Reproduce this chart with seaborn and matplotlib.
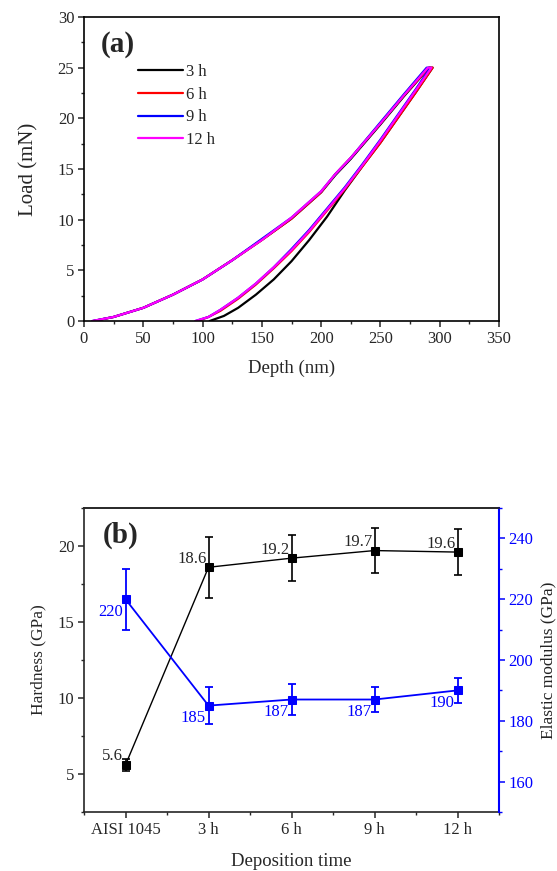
import numpy as np
import pandas as pd
import matplotlib
matplotlib.use("Agg")
import matplotlib.pyplot as plt
import seaborn as sns
from matplotlib.ticker import MultipleLocator

# ---------------- data: panel (a) load-depth curves ----------------
samples = ["3 h", "6 h", "9 h", "12 h"]
colors = ["#000000", "#FF0000", "#0000FF", "#FF00FF"]

load_depth_3h = [8, 25, 50, 75, 100, 125, 150, 175, 200, 212, 225, 250, 270, 291]
load_load_3h = [0, 0.4, 1.3, 2.6, 4.1, 6.0, 8.0, 10.1, 12.7, 14.4, 16.0, 19.4, 22.2, 25.0]
unload_depth_3h = [294, 280, 265, 250, 235, 220, 205, 190, 175, 160, 145, 130, 118, 106]
unload_load_3h = [25.0, 22.6, 20.1, 17.6, 15.3, 12.9, 10.3, 8.0, 5.9, 4.1, 2.6, 1.3, 0.5, 0]

load_depth_6h = [8, 25, 50, 75, 100, 125, 150, 175, 200, 212, 225, 250, 270, 291]
load_load_6h = [0, 0.4, 1.3, 2.6, 4.1, 6.0, 8.0, 10.1, 12.7, 14.5, 16.1, 19.5, 22.3, 25.0]
unload_depth_6h = [294, 280, 265, 250, 235, 220, 205, 190, 175, 160, 145, 130, 115, 105, 96]
unload_load_6h = [25.0, 22.6, 20.1, 17.6, 15.3, 13.0, 10.9, 8.8, 6.9, 5.2, 3.6, 2.2, 1.0, 0.4, 0]

load_depth_9h = [7, 25, 50, 75, 100, 125, 150, 175, 200, 212, 225, 250, 270, 289]
load_load_9h = [0, 0.4, 1.3, 2.6, 4.1, 6.0, 8.1, 10.2, 12.8, 14.5, 16.1, 19.6, 22.4, 25.0]
unload_depth_9h = [292, 280, 265, 250, 235, 220, 205, 190, 175, 160, 145, 130, 115, 105, 94]
unload_load_9h = [25.0, 22.9, 20.4, 17.9, 15.5, 13.2, 11.1, 9.0, 7.1, 5.3, 3.7, 2.3, 1.1, 0.4, 0]

load_depth_12h = [7, 25, 50, 75, 100, 125, 150, 175, 200, 212, 225, 250, 270, 290]
load_load_12h = [0, 0.4, 1.3, 2.6, 4.1, 6.0, 8.0, 10.2, 12.8, 14.5, 16.1, 19.5, 22.3, 25.0]
unload_depth_12h = [293, 280, 265, 250, 235, 220, 205, 190, 175, 160, 145, 130, 115, 105, 94]
unload_load_12h = [25.0, 22.8, 20.3, 17.8, 15.4, 13.1, 11.0, 8.9, 7.0, 5.3, 3.7, 2.3, 1.1, 0.4, 0]

# ---------------- data: panel (b) hardness / modulus ----------------
categories = ["AISI 1045", "3 h", "6 h", "9 h", "12 h"]
hardness = [5.6, 18.6, 19.2, 19.7, 19.6]
hardness_err = [0.4, 2.0, 1.5, 1.5, 1.5]
modulus = [220, 185, 187, 187, 190]
modulus_err = [10, 6, 5, 4, 4]

# ---------------- style ----------------
sns.set_style("ticks")
plt.rcParams["font.family"] = ["Liberation Serif", "DejaVu Serif"]
plt.rcParams["axes.linewidth"] = 1.2
plt.rcParams["xtick.major.width"] = 1.1
plt.rcParams["ytick.major.width"] = 1.1
plt.rcParams["xtick.minor.width"] = 1.0
plt.rcParams["ytick.minor.width"] = 1.0
plt.rcParams["xtick.major.size"] = 4
plt.rcParams["ytick.major.size"] = 4
plt.rcParams["xtick.minor.size"] = 2.5
plt.rcParams["ytick.minor.size"] = 2.5
plt.rcParams["xtick.direction"] = "out"
plt.rcParams["ytick.direction"] = "out"

BLUE = "#0000FF"
W, H = 557, 871
fig = plt.figure(figsize=(W / 100, H / 100), dpi=100)
ax1 = fig.add_axes([84 / W, 1 - 321 / H, 415 / W, 304 / H])
ax2 = fig.add_axes([84 / W, 1 - 812 / H, 415 / W, 304 / H])

# ---------------- panel (a) ----------------
branches = {
    "3 h": (load_depth_3h, load_load_3h, unload_depth_3h, unload_load_3h),
    "6 h": (load_depth_6h, load_load_6h, unload_depth_6h, unload_load_6h),
    "9 h": (load_depth_9h, load_load_9h, unload_depth_9h, unload_load_9h),
    "12 h": (load_depth_12h, load_load_12h, unload_depth_12h, unload_load_12h),
}
frames = []
for s in samples:
    ld, ll, ud, ul = branches[s]
    frames.append(pd.DataFrame({"Depth": list(ld) + list(ud),
                                "Load": list(ll) + list(ul),
                                "sample": s}))
df_a = pd.concat(frames, ignore_index=True)

sns.lineplot(data=df_a, x="Depth", y="Load", hue="sample", hue_order=samples,
             palette=colors, sort=False, estimator=None, linewidth=1.6, ax=ax1)

ax1.set_xlim(0, 350)
ax1.set_ylim(0, 30)
ax1.xaxis.set_major_locator(MultipleLocator(50))
ax1.xaxis.set_minor_locator(MultipleLocator(25))
ax1.yaxis.set_major_locator(MultipleLocator(5))
ax1.yaxis.set_minor_locator(MultipleLocator(2.5))
ax1.tick_params(axis="both", which="major", labelsize=12, pad=3)
ax1.set_xlabel("Depth (nm)", fontsize=13.5, labelpad=9)
ax1.set_ylabel("Load (mN)", fontsize=15, labelpad=14)
for sp in ax1.spines.values():
    sp.set_visible(True)
    sp.set_color("black")

handles, labels = ax1.get_legend_handles_labels()
ax1.legend(handles, labels, loc="upper left", bbox_to_anchor=(0.13, 0.845),
           frameon=False, handlelength=2.7, handletextpad=0.2,
           labelspacing=0.4, borderpad=0, borderaxespad=0, fontsize=12)
ax1.text(0.04, 0.955, "(a)", transform=ax1.transAxes, ha="left", va="top",
         fontsize=21, fontweight="bold")

# ---------------- panel (b) ----------------
xpos = np.arange(len(categories))
df_b = pd.DataFrame({"pos": xpos, "Hardness": hardness, "Modulus": modulus})

sns.lineplot(data=df_b, x="pos", y="Hardness", color="black", marker="s",
             markersize=5.5, markeredgecolor="black", linewidth=1.0, ax=ax2)
ax2.errorbar(xpos, hardness, yerr=hardness_err, fmt="none", ecolor="black",
             elinewidth=1.2, capsize=3, capthick=1.2)
for xi, v in zip(xpos, hardness):
    ax2.annotate(f"{v:.1f}", (xi, v), xytext=(-1.5, 3.2), textcoords="offset points",
                 ha="right", va="baseline", fontsize=12)

ax3 = ax2.twinx()
sns.lineplot(data=df_b, x="pos", y="Modulus", color=BLUE, marker="s",
             markersize=5.5, markeredgecolor=BLUE, linewidth=1.3, ax=ax3)
ax3.errorbar(xpos, modulus, yerr=modulus_err, fmt="none", ecolor=BLUE,
             elinewidth=1.3, capsize=3, capthick=1.3)
for xi, v in zip(xpos, modulus):
    ax3.annotate(f"{v:.0f}", (xi, v), xytext=(-2, -3.5), textcoords="offset points",
                 ha="right", va="top", fontsize=12, color=BLUE)

ax2.set_xlim(-0.5, len(categories) - 0.5)
ax2.set_ylim(2.5, 22.5)
ax3.set_ylim(150, 250)
ax2.set_xticks(xpos)
ax2.set_xticklabels(categories)
ax2.xaxis.set_minor_locator(MultipleLocator(0.5))
ax2.yaxis.set_major_locator(MultipleLocator(5))
ax2.yaxis.set_minor_locator(MultipleLocator(2.5))
ax3.yaxis.set_major_locator(MultipleLocator(20))
ax3.yaxis.set_minor_locator(MultipleLocator(10))
ax2.tick_params(axis="both", which="major", labelsize=12, pad=3)
ax3.tick_params(axis="y", which="both", colors=BLUE, labelsize=12, pad=3)
ax3.tick_params(axis="y", which="both", labelcolor=BLUE)
ax2.set_xlabel("Deposition time", fontsize=13.5, labelpad=11)
ax2.set_ylabel("Hardness (GPa)", fontsize=12.5, labelpad=8)
ax3.set_ylabel("Elastic modulus (GPa)", fontsize=12.5, labelpad=5, color="#222222")

ax2.spines["right"].set_visible(False)
ax2.spines["top"].set_visible(True)
ax3.spines["right"].set_color(BLUE)
ax3.spines["right"].set_linewidth(1.5)
ax3.spines["left"].set_visible(False)
ax3.spines["top"].set_visible(True)
ax3.spines["bottom"].set_visible(False)

ax2.text(0.045, 0.955, "(b)", transform=ax2.transAxes, ha="left", va="top",
         fontsize=21, fontweight="bold")

fig.savefig("out.png", dpi=100)
